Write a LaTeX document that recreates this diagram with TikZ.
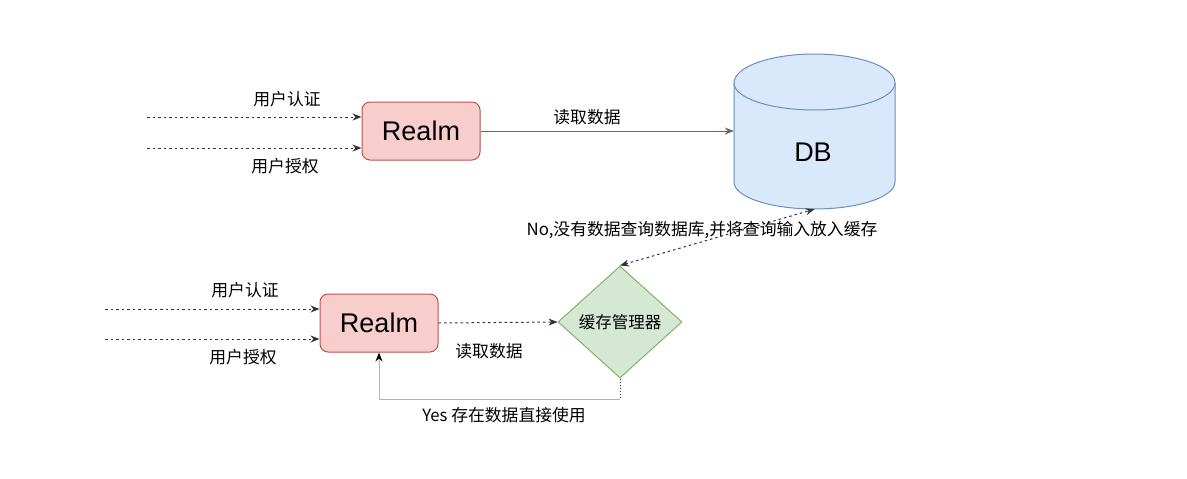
\documentclass[tikz,border=0pt]{standalone}
\usepackage{fontspec}
\setmainfont{Liberation Sans}
\newfontfamily\cjk{Noto Sans CJK SC}
\usetikzlibrary{arrows.meta,shapes.geometric}

\definecolor{realmfill}{HTML}{F8CECC}
\definecolor{realmline}{HTML}{B85450}
\definecolor{dbfill}{HTML}{DAE8FC}
\definecolor{dbline}{HTML}{6C8EBF}
\definecolor{cachefill}{HTML}{D5E8D4}
\definecolor{cacheline}{HTML}{82B366}
\definecolor{edgegray}{HTML}{666666}
\definecolor{yesgray}{HTML}{B3B3B3}

\begin{document}
\begin{tikzpicture}[
  x=1pt, y=-1pt,
  realm/.style={draw=realmline, fill=realmfill, line width=1pt, rounded corners=8pt,
                minimum width=118pt, minimum height=58pt, inner sep=0pt,
                font=\fontsize{27}{32}\selectfont},
  cache/.style={diamond, draw=cacheline, fill=cachefill, line width=1pt,
                minimum width=124pt, minimum height=112pt, inner sep=0pt, aspect=1.1,
                font=\cjk\fontsize{16.5}{19}\selectfont},
  lbl/.style={font=\cjk\fontsize{16.8}{19}\selectfont, inner sep=0pt},
  tip/.style={-{Stealth[length=9pt, width=7pt]}},
  dots/.style={tip, line width=1pt, black!80, dash pattern=on 2.5pt off 3pt},
  solidarrow/.style={tip, line width=1pt, edgegray}
]
\useasboundingbox (0,0) rectangle (1187,479);

% ---------------- upper flow ----------------
\node[realm] (realmA) at (421,131) {Realm};
\coordinate (authA) at (147,117);
\coordinate (permA) at (147,148);
\draw[dots] (authA) -- (authA -| realmA.west);
\draw[dots] (permA) -- (permA -| realmA.west);
\node[lbl] at (287,99) {用户认证};
\node[lbl] at (285,166) {用户授权};

% database cylinder
\node[minimum width=161pt, minimum height=155pt, inner sep=0pt] (db) at (814.5,131.5) {};
\filldraw[draw=dbline, fill=dbfill, line width=1pt]
  (734,83) -- (734,182) arc[start angle=180, end angle=360, x radius=80.5pt, y radius=27pt]
  -- (895,83) arc[start angle=0, end angle=180, x radius=80.5pt, y radius=29pt] -- cycle;
\draw[dbline, line width=1pt]
  (734,83) arc[start angle=180, end angle=360, x radius=80.5pt, y radius=27pt];
\node[font=\fontsize{27}{32}\selectfont] (dbtext) at (813,152) {DB};

\draw[solidarrow] (realmA.east) -- (realmA.east -| db.west);
\node[lbl] at (587,117) {读取数据};

% ---------------- lower flow ----------------
\node[realm] (realmB) at (379,323) {Realm};
\coordinate (authB) at (105,309);
\coordinate (permB) at (105,339);
\draw[dots] (authB) -- (authB -| realmB.west);
\draw[dots] (permB) -- (permB -| realmB.west);
\node[lbl] at (245,290) {用户认证};
\node[lbl] at (243,357) {用户授权};

\node[cache] (cache) at (620,322) {缓存管理器};
\draw[dots] (realmB.east) -- (cache.west);
\node[lbl] at (489,351) {读取数据};

% cache miss goes to the database
\draw[dots, {Stealth[length=9pt, width=7pt]}-{Stealth[length=9pt, width=7pt]}]
  (cache.north) -- (db.south);
\node[lbl] at (702,230) {No,没有数据查询数据库,并将查询输入放入缓存};

% cache hit goes back to realm
\coordinate (hit) at (620,399);
\draw[line width=1pt, black!80, dash pattern=on 1.5pt off 1.5pt] (cache.south) -- (hit);
\draw[line width=1pt, yesgray, -{Stealth[length=9pt, width=7pt, black]}]
  (hit) -| (realmB.south);
\node[lbl] at (504,415) {Yes 存在数据直接使用};
\end{tikzpicture}
\end{document}
